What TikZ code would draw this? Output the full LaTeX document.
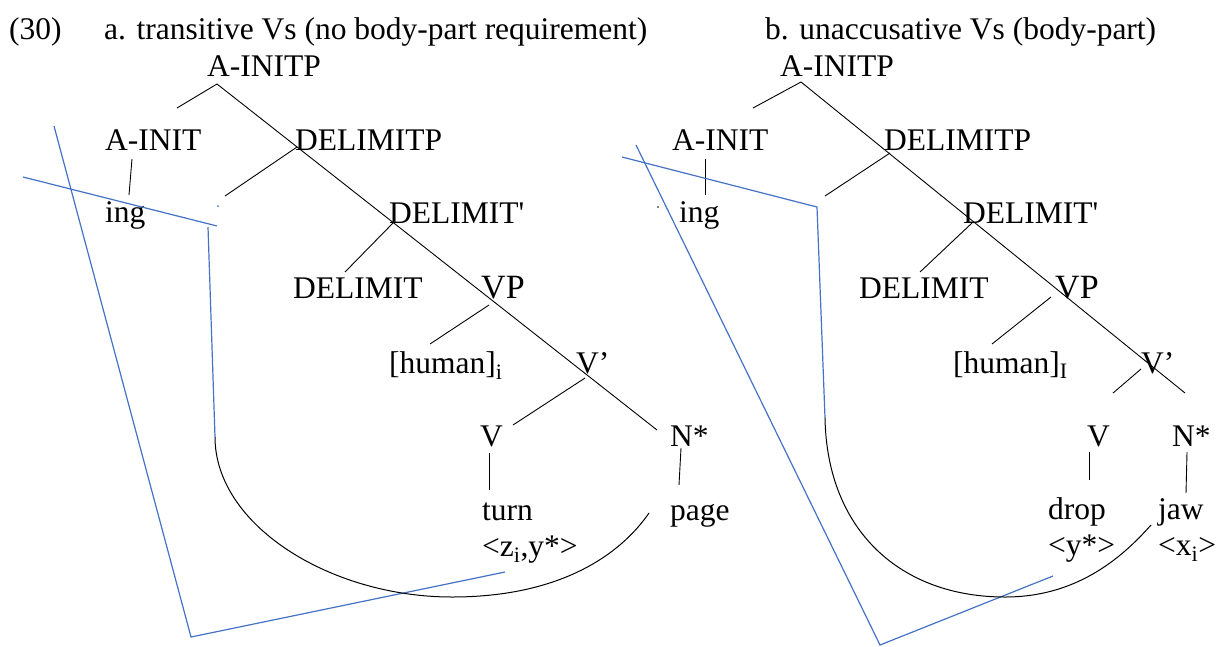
\documentclass[tikz,border=0pt]{standalone}
\usepackage{fontspec}
\setmainfont{Liberation Serif}
\definecolor{traceblue}{RGB}{68,114,196}
\tikzset{
  lbl/.style={inner sep=0pt, anchor=base west},
  biglbl/.style={lbl, font=\fontsize{34}{38}\selectfont},
  branch/.style={draw=black, line width=0.9pt},
  trace/.style={draw=traceblue, line width=1.2pt},
  arc/.style={draw=black, line width=1pt},
}

\begin{document}
\begin{tikzpicture}[x=1pt,y=-1pt,font=\fontsize{31.5}{36}\selectfont]
\useasboundingbox (0,0) rectangle (1222,646);
% headings
\node[lbl] (exnum) at (9,39) {(30)};
\node[lbl] (heada) at (104,39) {a. transitive Vs (no body-part requirement)};
\node[lbl] (headb) at (765,39) {b. unaccusative Vs (body-part)};

% tree a
\node[lbl] (ainitpA) at (207,76) {A-INITP};
\node[lbl] (ainitA) at (105,150) {A-INIT};
\node[lbl] (delimitpA) at (295,150) {DELIMITP};
\node[lbl] (ingA) at (105,222) {ing};
\node[lbl] (delimitbarA) at (389,223) {DELIMIT\textquotesingle};
\node[lbl] (delimitA) at (293,298) {DELIMIT};
\node[biglbl] (vpA) at (481,298) {VP};
\node[lbl] (humanA) at (389,373) {[human]\textsubscript{i}};
\node[lbl] (vbarA) at (576,373) {V’};
\node[lbl] (vA) at (480,446) {V};
\node[lbl] (nA) at (670,446) {N*};
\node[lbl] (turn) at (482,520) {turn};
\node[lbl] (page) at (670,520) {page};
\node[lbl] (gridA) at (482,556) {<z\textsubscript{i},y*>};

\foreach \n/\p in {ta0/{217,84},ta1/{177,108},ta2/{657,430},
    ta3/{132,159},ta4/{129,195},ta5/{297,147},ta6/{225,196},
    ta7/{393,223},ta8/{345,272},ta9/{489,305},ta10/{430,344},
    ta11/{585,378},ta12/{513,425},ta13/{489,453},ta14/{489,490},
    ta15/{681,448},ta16/{679,485}}
  \coordinate (\n) at (\p);
\draw[branch] (ta1) -- (ta0) -- (ta2);
\draw[branch] (ta3) -- (ta4);
\draw[branch] (ta5) -- (ta6);
\draw[branch] (ta7) -- (ta8);
\draw[branch] (ta9) -- (ta10);
\draw[branch] (ta11) -- (ta12);
\draw[branch] (ta13) -- (ta14);
\draw[branch] (ta15) -- (ta16);

% blue marks a
\coordinate (ba1) at (54,126);
\coordinate (ba2) at (191,637);
\coordinate (ba3) at (505,572);
\coordinate (ba4) at (23,177);
\coordinate (ba5) at (217,226);
\coordinate (ba6) at (208,227);
\coordinate (ba7) at (215,437);
\coordinate (ba8) at (452,597);
\coordinate (ba9) at (649,513);
\coordinate (dotA) at (218,206);
\draw[trace] (ba1) -- (ba2) -- (ba3);
\draw[trace] (ba4) -- (ba5);
\draw[trace] (ba6) -- (ba7);
\draw[arc] (ba7) .. controls (215,525) and (330,597) .. (ba8)
  .. controls (560,597) and (620,555) .. (ba9);
\fill[traceblue] (dotA) circle (1);

% tree b
\node[lbl] (ainitpB) at (780,76) {A-INITP};
\node[lbl] (ainitB) at (672,150) {A-INIT};
\node[lbl] (delimitpB) at (884,150) {DELIMITP};
\node[lbl] (ingB) at (679,222) {ing};
\node[lbl] (delimitbarB) at (963,223) {DELIMIT\textquotesingle};
\node[lbl] (delimitB) at (859,298) {DELIMIT};
\node[biglbl] (vpB) at (1055,298) {VP};
\node[lbl] (humanB) at (953,373) {[human]\textsubscript{I}};
\node[lbl] (vbarB) at (1141,373) {V’};
\node[lbl] (vB) at (1087,446) {V};
\node[lbl] (nB) at (1172,446) {N*};
\node[lbl] (drop) at (1048,519) {drop};
\node[lbl] (jaw) at (1158,519) {jaw};
\node[lbl] (gridB) at (1048,555) {<y*>};
\node[lbl] (gridC) at (1158,555) {<x\textsubscript{i}>};

\foreach \n/\p in {tb0/{801,82},tb1/{753,108},tb2/{1185,393},
    tb3/{705,159},tb4/{705,195},tb5/{890,153},tb6/{825,196},
    tb7/{972,223},tb8/{920,272},tb9/{1051,297},tb10/{992,344},
    tb11/{1141,369},tb12/{1113,393},tb13/{1089,452},tb14/{1089,480},
    tb15/{1187,452},tb16/{1186,493}}
  \coordinate (\n) at (\p);
\draw[branch] (tb1) -- (tb0) -- (tb2);
\draw[branch] (tb3) -- (tb4);
\draw[branch] (tb5) -- (tb6);
\draw[branch] (tb7) -- (tb8);
\draw[branch] (tb9) -- (tb10);
\draw[branch] (tb11) -- (tb12);
\draw[branch] (tb13) -- (tb14);
\draw[branch] (tb15) -- (tb16);

% blue marks b
\coordinate (bb1) at (636,145);
\coordinate (bb2) at (880,645);
\coordinate (bb3) at (1053,576);
\coordinate (bb4) at (622,157);
\coordinate (bb5) at (817,207);
\coordinate (bb6) at (825,418);
\coordinate (bb7) at (1005,597);
\coordinate (bb8) at (1151,525);
\coordinate (dotB) at (658,207);
\draw[trace] (bb1) -- (bb2) -- (bb3);
\draw[trace] (bb4) -- (bb5) -- (bb6);
\draw[arc] (bb6) .. controls (827,530) and (900,597) .. (bb7)
  .. controls (1075,597) and (1120,560) .. (bb8);
\fill[black] (dotB) circle (0.8);
\end{tikzpicture}
\end{document}
